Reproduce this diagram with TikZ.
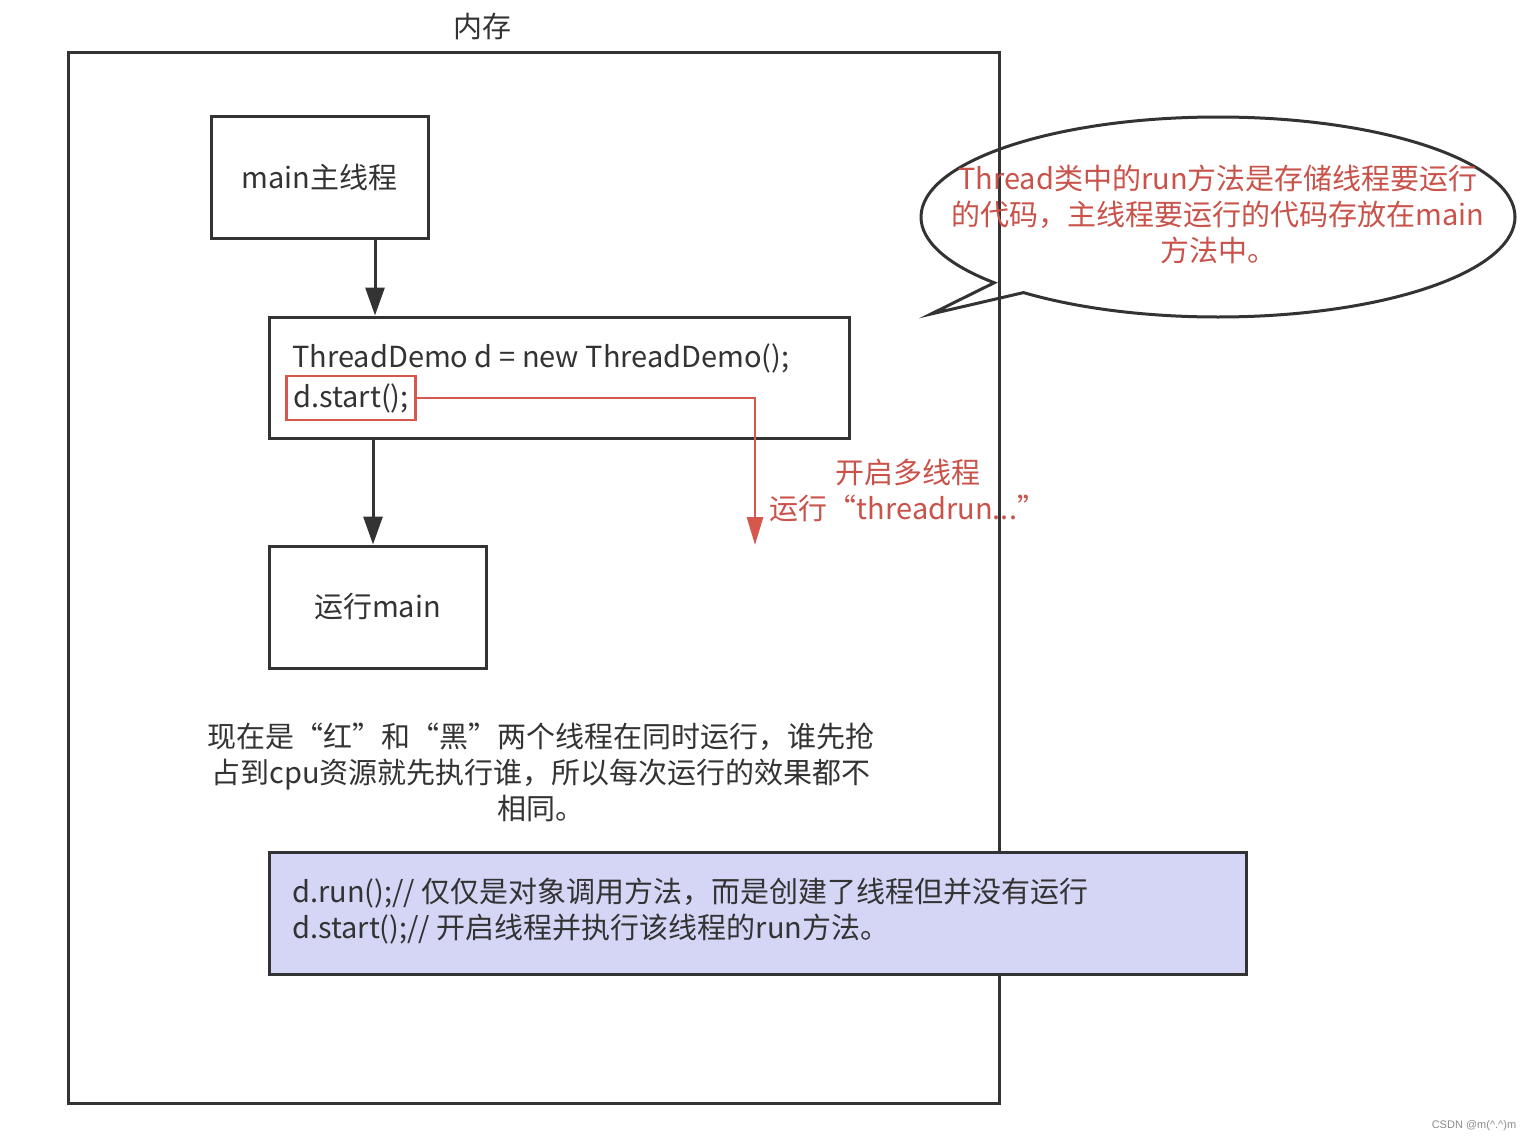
\documentclass[tikz,border=0pt]{standalone}
\usepackage{fontspec}
\setmainfont{Noto Sans CJK SC}
\newfontfamily\wmfont{Liberation Sans}
\usetikzlibrary{arrows.meta,shapes.callouts}
\definecolor{lc}{HTML}{333333}
\definecolor{rc}{HTML}{D6574E}
\definecolor{rt}{HTML}{C9524A}
\definecolor{pf}{HTML}{D5D6F6}
\tikzset{
  box/.style={draw=lc, line width=3pt, inner sep=0pt},
  txt/.style={font=\fontsize{29}{36}\selectfont, text=lc, inner sep=0pt},
  rtxt/.style={font=\fontsize{29}{36}\selectfont, text=rt, inner sep=0pt},
  arr/.style={draw=lc, line width=3pt, -{Triangle[width=19pt,length=28pt]}},
  rarr/.style={draw=rc, line width=2.8pt, -{Triangle[width=16pt,length=28pt]}},
}
\begin{document}
\begin{tikzpicture}[x=1pt,y=-1pt]
\useasboundingbox (0,0) rectangle (1537,1143);
\fill[white] (0,0) rectangle (1537,1143);

% outer memory box
\node[box, minimum width=931, minimum height=1051, anchor=north west] (mem) at (67,51) {};
\node[txt] (memt) at (482,27) {内存};

% main thread box
\node[box, minimum width=217, minimum height=122, txt] (mainb) at (319.5,177) {main主线程};

% ThreadDemo box
\node[box, minimum width=580, minimum height=121] (tdb) at (559,377.5) {};
\node[txt, anchor=west] (l1) at (292,358) {ThreadDemo d = new ThreadDemo();};
\node[txt, draw=rc, line width=2.8pt, anchor=west, inner xsep=7pt, minimum height=44] (dstart) at (285,398) {d.start();};

% run main box
\node[box, minimum width=217, minimum height=122, txt] (runm) at (377.5,607) {运行main};

% arrows
\draw[arr] (375,0 |- mainb.south) -- (375,0 |- tdb.north);
\draw[arr] (373,0 |- tdb.south) -- (373,0 |- runm.north);

% red connector
\coordinate (redend) at (755,545);
\draw[rarr] (dstart.east) -| (redend);
\node[rtxt, align=center] (redlab) at (908,491) {开启多线程\\运行“threadrun...”};

% explanatory text
\node[txt, align=center] (expl) at (541,772) {现在是“红”和“黑”两个线程在同时运行，谁先抢\\占到cpu资源就先执行谁，所以每次运行的效果都不\\相同。};

% purple note box
\node[box, fill=pf, minimum width=977, minimum height=122] (note) at (757.5,913) {};
\node[txt, align=left, anchor=west] (notet) at (292,911.5) {d.run();// 仅仅是对象调用方法，而是创建了线程但并没有运行\\d.start();// 开启线程并执行该线程的run方法。};

% callout
\node[ellipse callout, draw=lc, line width=3pt, minimum width=594, minimum height=200, callout absolute pointer={(931,314)}, callout pointer arc=8] (bubble) at (1218,217) {};
\node[rtxt, align=center] (bubblet) at (1218,214) {Thread类中的run方法是存储线程要运行\\的代码，主线程要运行的代码存放在main\\方法中。};

% watermark
\node[font=\wmfont\fontsize{11}{13}\selectfont, text=black!45, inner sep=0pt] (wm) at (1474,1126) {CSDN @m(\^{}.\^{})m};
\end{tikzpicture}
\end{document}
